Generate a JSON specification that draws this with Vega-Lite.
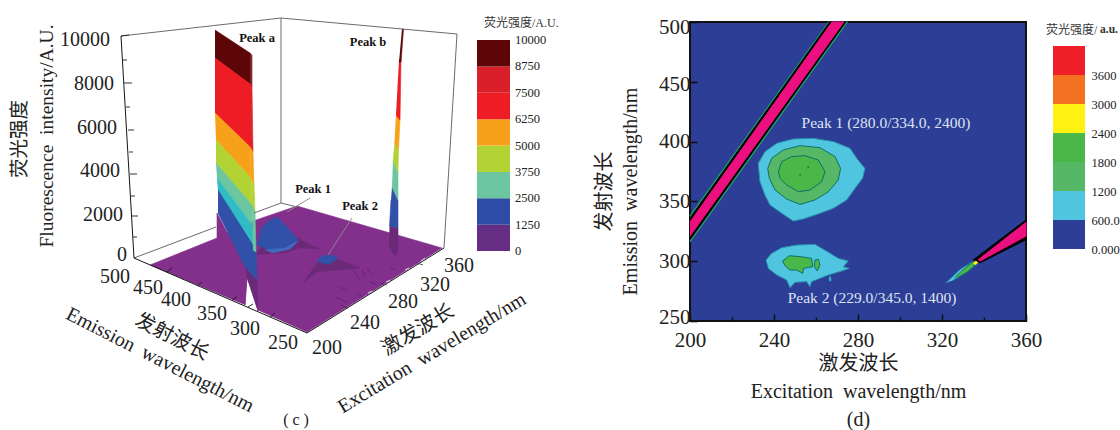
{"$schema":"https://vega.github.io/schema/vega-lite/v6.json","padding":0,"background":"white","bounds":"flush","spacing":0,"config":{"view":{"stroke":null},"font":"Liberation Serif"},
"resolve":{"scale":{"fill":"independent","stroke":"independent","strokeWidth":"independent"}},
"datasets":{
"poly3d":[
{"g":"floor","n":0,"h":150,"v":265,"level":"0-1250"},{"g":"floor","n":1,"h":217,"v":238,"level":"0-1250"},{"g":"floor","n":2,"h":250,"v":222,"level":"0-1250"},{"g":"floor","n":3,"h":297,"v":206,"level":"0-1250"},{"g":"floor","n":4,"h":442,"v":248,"level":"0-1250"},{"g":"floor","n":5,"h":307,"v":332,"level":"0-1250"},{"g":"floor","n":6,"h":258,"v":310,"level":"0-1250"},{"g":"floor","n":7,"h":247,"v":277,"level":"0-1250"},{"g":"floor","n":8,"h":245,"v":305,"level":"0-1250"},
{"g":"p1s","n":0,"h":256,"v":255,"level":"skirt"},{"g":"p1s","n":1,"h":262,"v":245,"level":"skirt"},{"g":"p1s","n":2,"h":298,"v":238,"level":"skirt"},{"g":"p1s","n":3,"h":312,"v":246,"level":"skirt"},{"g":"p1s","n":4,"h":320,"v":249,"level":"skirt"},{"g":"p1s","n":5,"h":300,"v":248,"level":"skirt"},{"g":"p1s","n":6,"h":285,"v":253,"level":"skirt"},
{"g":"p1b","n":0,"h":257,"v":245,"level":"1250-2500"},{"g":"p1b","n":1,"h":262,"v":227,"level":"1250-2500"},{"g":"p1b","n":2,"h":270,"v":220,"level":"1250-2500"},{"g":"p1b","n":3,"h":277,"v":217,"level":"1250-2500"},{"g":"p1b","n":4,"h":287,"v":227,"level":"1250-2500"},{"g":"p1b","n":5,"h":298,"v":240,"level":"1250-2500"},{"g":"p1b","n":6,"h":290,"v":248,"level":"1250-2500"},{"g":"p1b","n":7,"h":273,"v":252,"level":"1250-2500"},
{"g":"p1r","n":0,"h":265,"v":250,"level":"rim"},{"g":"p1r","n":1,"h":285,"v":248,"level":"rim"},{"g":"p1r","n":2,"h":298,"v":241,"level":"rim"},{"g":"p1r","n":3,"h":290,"v":249,"level":"rim"},{"g":"p1r","n":4,"h":272,"v":253,"level":"rim"},
{"g":"p2s","n":0,"h":303,"v":283,"level":"skirt"},{"g":"p2s","n":1,"h":317,"v":263,"level":"skirt"},{"g":"p2s","n":2,"h":338,"v":259,"level":"skirt"},{"g":"p2s","n":3,"h":360,"v":268,"level":"skirt"},{"g":"p2s","n":4,"h":337,"v":270,"level":"skirt"},{"g":"p2s","n":5,"h":317,"v":272,"level":"skirt"},
{"g":"p2b","n":0,"h":317,"v":261,"level":"1250-2500"},{"g":"p2b","n":1,"h":322,"v":256,"level":"1250-2500"},{"g":"p2b","n":2,"h":332,"v":255,"level":"1250-2500"},{"g":"p2b","n":3,"h":338,"v":258,"level":"1250-2500"},{"g":"p2b","n":4,"h":330,"v":264,"level":"1250-2500"},{"g":"p2b","n":5,"h":322,"v":263,"level":"1250-2500"},
{"g":"ac1","n":0,"h":217,"v":238,"level":"0-1250"},{"g":"ac1","n":1,"h":217,"v":213,"level":"0-1250"},{"g":"ac1","n":2,"h":245,"v":267,"level":"0-1250"},{"g":"ac1","n":3,"h":247,"v":277,"level":"0-1250"},{"g":"ac1","n":4,"h":245,"v":305,"level":"0-1250"},
{"g":"ac2","n":0,"h":245,"v":265,"level":"skirt"},{"g":"ac2","n":1,"h":257,"v":278,"level":"skirt"},{"g":"ac2","n":2,"h":258,"v":311,"level":"skirt"},{"g":"ac2","n":3,"h":247,"v":277,"level":"skirt"},
{"g":"a1","n":0,"h":215,"v":30,"level":"8750-10000"},{"g":"a1","n":1,"h":250,"v":53,"level":"8750-10000"},{"g":"a1","n":2,"h":250,"v":84,"level":"8750-10000"},{"g":"a1","n":3,"h":215,"v":58,"level":"8750-10000"},
{"g":"a2","n":0,"h":215,"v":58,"level":"6250-7500"},{"g":"a2","n":1,"h":250,"v":84,"level":"6250-7500"},{"g":"a2","n":2,"h":250,"v":147,"level":"6250-7500"},{"g":"a2","n":3,"h":215,"v":113,"level":"6250-7500"},
{"g":"a3","n":0,"h":215,"v":113,"level":"5000-6250"},{"g":"a3","n":1,"h":250,"v":147,"level":"5000-6250"},{"g":"a3","n":2,"h":251,"v":178,"level":"5000-6250"},{"g":"a3","n":3,"h":216,"v":140,"level":"5000-6250"},
{"g":"a4","n":0,"h":216,"v":140,"level":"3750-5000"},{"g":"a4","n":1,"h":251,"v":178,"level":"3750-5000"},{"g":"a4","n":2,"h":252,"v":205,"level":"3750-5000"},{"g":"a4","n":3,"h":216,"v":163,"level":"3750-5000"},
{"g":"a5","n":0,"h":216,"v":163,"level":"2500-3750"},{"g":"a5","n":1,"h":252,"v":205,"level":"2500-3750"},{"g":"a5","n":2,"h":252,"v":225,"level":"2500-3750"},{"g":"a5","n":3,"h":217,"v":178,"level":"2500-3750"},
{"g":"a6","n":0,"h":217,"v":178,"level":"cyan"},{"g":"a6","n":1,"h":252,"v":225,"level":"cyan"},{"g":"a6","n":2,"h":255,"v":250,"level":"cyan"},{"g":"a6","n":3,"h":218,"v":190,"level":"cyan"},
{"g":"a7","n":0,"h":218,"v":190,"level":"1250-2500"},{"g":"a7","n":1,"h":256,"v":250,"level":"1250-2500"},{"g":"a7","n":2,"h":257,"v":280,"level":"1250-2500"},{"g":"a7","n":3,"h":245,"v":267,"level":"1250-2500"},{"g":"a7","n":4,"h":218,"v":213,"level":"1250-2500"},
{"g":"as1","n":0,"h":250,"v":53,"level":"shade"},{"g":"as1","n":1,"h":252,"v":55,"level":"shade"},{"g":"as1","n":2,"h":252,"v":87,"level":"shade"},{"g":"as1","n":3,"h":250,"v":84,"level":"shade"},
{"g":"as2","n":0,"h":250,"v":84,"level":"7500-8750"},{"g":"as2","n":1,"h":252,"v":87,"level":"7500-8750"},{"g":"as2","n":2,"h":253,"v":152,"level":"7500-8750"},{"g":"as2","n":3,"h":250,"v":147,"level":"7500-8750"},
{"g":"as3","n":0,"h":250,"v":147,"level":"5000-6250"},{"g":"as3","n":1,"h":253,"v":152,"level":"5000-6250"},{"g":"as3","n":2,"h":254,"v":185,"level":"5000-6250"},{"g":"as3","n":3,"h":251,"v":178,"level":"5000-6250"},
{"g":"as4","n":0,"h":251,"v":178,"level":"3750-5000"},{"g":"as4","n":1,"h":254,"v":185,"level":"3750-5000"},{"g":"as4","n":2,"h":255,"v":212,"level":"3750-5000"},{"g":"as4","n":3,"h":252,"v":205,"level":"3750-5000"},
{"g":"as5","n":0,"h":252,"v":205,"level":"2500-3750"},{"g":"as5","n":1,"h":255,"v":212,"level":"2500-3750"},{"g":"as5","n":2,"h":256,"v":252,"level":"2500-3750"},{"g":"as5","n":3,"h":253,"v":250,"level":"2500-3750"},
{"g":"b7","n":0,"h":389.5,"v":226,"level":"skirt"},{"g":"b7","n":1,"h":398,"v":228,"level":"skirt"},{"g":"b7","n":2,"h":398,"v":250,"level":"skirt"},{"g":"b7","n":3,"h":396,"v":256,"level":"skirt"},{"g":"b7","n":4,"h":392,"v":252,"level":"skirt"},{"g":"b7","n":5,"h":389,"v":247,"level":"skirt"},
{"g":"b6","n":0,"h":392,"v":187,"level":"1250-2500"},{"g":"b6","n":1,"h":398,"v":200,"level":"1250-2500"},{"g":"b6","n":2,"h":398,"v":228,"level":"1250-2500"},{"g":"b6","n":3,"h":389.5,"v":226,"level":"1250-2500"},{"g":"b6","n":4,"h":391,"v":200,"level":"1250-2500"},
{"g":"b5","n":0,"h":393,"v":160,"level":"2500-3750"},{"g":"b5","n":1,"h":398,"v":172,"level":"2500-3750"},{"g":"b5","n":2,"h":398,"v":200,"level":"2500-3750"},{"g":"b5","n":3,"h":392,"v":187,"level":"2500-3750"},
{"g":"b4","n":0,"h":394.5,"v":142,"level":"3750-5000"},{"g":"b4","n":1,"h":398.5,"v":150,"level":"3750-5000"},{"g":"b4","n":2,"h":398,"v":172,"level":"3750-5000"},{"g":"b4","n":3,"h":393,"v":160,"level":"3750-5000"},
{"g":"b3","n":0,"h":396,"v":115,"level":"5000-6250"},{"g":"b3","n":1,"h":400,"v":120,"level":"5000-6250"},{"g":"b3","n":2,"h":398.5,"v":150,"level":"5000-6250"},{"g":"b3","n":3,"h":394.5,"v":142,"level":"5000-6250"},
{"g":"b2","n":0,"h":399,"v":60,"level":"6250-7500"},{"g":"b2","n":1,"h":401,"v":60,"level":"6250-7500"},{"g":"b2","n":2,"h":400,"v":120,"level":"6250-7500"},{"g":"b2","n":3,"h":396,"v":115,"level":"6250-7500"},
{"g":"b1","n":0,"h":402,"v":29,"level":"8750-10000"},{"g":"b1","n":1,"h":403.5,"v":29,"level":"8750-10000"},{"g":"b1","n":2,"h":401,"v":62,"level":"8750-10000"},{"g":"b1","n":3,"h":399,"v":62,"level":"8750-10000"}
],
"lines3d":[
{"g":"w1","n":0,"h":121,"v":36,"kind":"wall"},{"g":"w1","n":1,"h":281,"v":18,"kind":"wall"},{"g":"w1","n":2,"h":457,"v":34,"kind":"wall"},{"g":"w1","n":3,"h":444,"v":248,"kind":"wall"},
{"g":"w2","n":0,"h":281,"v":18,"kind":"wall"},{"g":"w2","n":1,"h":281,"v":203,"kind":"wall"},
{"g":"w3","n":0,"h":134,"v":258,"kind":"wall"},{"g":"w3","n":1,"h":216,"v":227,"kind":"wall"},
{"g":"w4","n":0,"h":254,"v":213,"kind":"wall"},{"g":"w4","n":1,"h":281,"v":203,"kind":"wall"},{"g":"w4","n":2,"h":297,"v":207,"kind":"wall"},
{"g":"l1","n":0,"h":287,"v":212,"kind":"leader"},{"g":"l1","n":1,"h":310,"v":198,"kind":"leader"},
{"g":"l2","n":0,"h":328,"v":255,"kind":"leader"},{"g":"l2","n":1,"h":352,"v":218,"kind":"leader"},
{"g":"z","n":0,"h":121,"v":36,"kind":"axis"},{"g":"z","n":1,"h":134,"v":258,"kind":"axis"},{"g":"z","n":2,"h":307,"v":333,"kind":"axis"},{"g":"z","n":3,"h":444,"v":248,"kind":"axis"},
{"g":"t0","n":0,"h":121,"v":36,"kind":"tick"},{"g":"t0","n":1,"h":129,"v":35,"kind":"tick"},
{"g":"t1","n":0,"h":123,"v":60,"kind":"tick"},{"g":"t1","n":1,"h":127,"v":60,"kind":"tick"},
{"g":"t2","n":0,"h":124,"v":83,"kind":"tick"},{"g":"t2","n":1,"h":132,"v":83,"kind":"tick"},
{"g":"t3","n":0,"h":126,"v":107,"kind":"tick"},{"g":"t3","n":1,"h":130,"v":107,"kind":"tick"},
{"g":"t4","n":0,"h":128,"v":130,"kind":"tick"},{"g":"t4","n":1,"h":134,"v":130,"kind":"tick"},
{"g":"t5","n":0,"h":129,"v":152,"kind":"tick"},{"g":"t5","n":1,"h":133,"v":152,"kind":"tick"},
{"g":"t6","n":0,"h":130,"v":174,"kind":"tick"},{"g":"t6","n":1,"h":137,"v":174,"kind":"tick"},
{"g":"t7","n":0,"h":131,"v":196,"kind":"tick"},{"g":"t7","n":1,"h":135,"v":196,"kind":"tick"},
{"g":"t8","n":0,"h":132,"v":216,"kind":"tick"},{"g":"t8","n":1,"h":138,"v":216,"kind":"tick"},
{"g":"t9","n":0,"h":133,"v":237,"kind":"tick"},{"g":"t9","n":1,"h":137,"v":237,"kind":"tick"},
{"g":"e1","n":0,"h":167,"v":272,"kind":"tick"},{"g":"e1","n":1,"h":172,"v":268,"kind":"tick"},
{"g":"e2","n":0,"h":197,"v":286,"kind":"tick"},{"g":"e2","n":1,"h":202,"v":282,"kind":"tick"},
{"g":"e3","n":0,"h":232,"v":300,"kind":"tick"},{"g":"e3","n":1,"h":237,"v":297,"kind":"tick"},
{"g":"e4","n":0,"h":248,"v":307,"kind":"tick"},{"g":"e4","n":1,"h":253,"v":304,"kind":"tick"},
{"g":"e5","n":0,"h":270,"v":317,"kind":"tick"},{"g":"e5","n":1,"h":275,"v":313,"kind":"tick"},
{"g":"x1","n":0,"h":340,"v":305,"kind":"speck"},{"g":"x1","n":1,"h":348,"v":308,"kind":"speck"},
{"g":"x2","n":0,"h":380,"v":283,"kind":"speck"},{"g":"x2","n":1,"h":387,"v":285,"kind":"speck"},
{"g":"x3","n":0,"h":417,"v":263,"kind":"speck"},{"g":"x3","n":1,"h":423,"v":265,"kind":"speck"},
{"g":"x4","n":0,"h":340,"v":287,"kind":"speck"},{"g":"x4","n":1,"h":347,"v":290,"kind":"speck"},
{"g":"x5","n":0,"h":362,"v":270,"kind":"speck"},{"g":"x5","n":1,"h":365,"v":277,"kind":"speck"},
{"g":"x6","n":0,"h":353,"v":270,"kind":"speck"},{"g":"x6","n":1,"h":360,"v":280,"kind":"speck"},
{"g":"x7","n":0,"h":367,"v":268,"kind":"speck"},{"g":"x7","n":1,"h":372,"v":275,"kind":"speck"},
{"g":"x8","n":0,"h":337,"v":298,"kind":"speck"},{"g":"x8","n":1,"h":347,"v":302,"kind":"speck"},
{"g":"x9","n":0,"h":357,"v":293,"kind":"speck"},{"g":"x9","n":1,"h":363,"v":297,"kind":"speck"},
{"g":"x10","n":0,"h":370,"v":282,"kind":"speck"},{"g":"x10","n":1,"h":377,"v":285,"kind":"speck"},
{"g":"x11","n":0,"h":390,"v":267,"kind":"speck"},{"g":"x11","n":1,"h":395,"v":270,"kind":"speck"},
{"g":"y1","n":0,"h":405,"v":270,"kind":"white"},{"g":"y1","n":1,"h":409,"v":268,"kind":"white"},
{"g":"y2","n":0,"h":386,"v":282,"kind":"white"},{"g":"y2","n":1,"h":390,"v":280,"kind":"white"},
{"g":"y3","n":0,"h":368,"v":293,"kind":"white"},{"g":"y3","n":1,"h":372,"v":291,"kind":"white"},
{"g":"y4","n":0,"h":421,"v":261,"kind":"white"},{"g":"y4","n":1,"h":425,"v":258,"kind":"white"}
],
"cont":[
{"g":"u0","n":0,"ex":200,"em":338,"level":"outline-green"},{"g":"u0","n":1,"ex":266,"em":500,"level":"outline-green"},{"g":"u0","n":2,"ex":275,"em":500,"level":"outline-green"},{"g":"u0","n":3,"ex":200,"em":316,"level":"outline-green"},
{"g":"u1","n":0,"ex":200,"em":336,"level":"outline-black"},{"g":"u1","n":1,"ex":266.5,"em":500,"level":"outline-black"},{"g":"u1","n":2,"ex":274.2,"em":500,"level":"outline-black"},{"g":"u1","n":3,"ex":200,"em":318,"level":"outline-black"},
{"g":"u2","n":0,"ex":200,"em":332.8,"level":"saturated"},{"g":"u2","n":1,"ex":267.6,"em":500,"level":"saturated"},{"g":"u2","n":2,"ex":273.3,"em":500,"level":"saturated"},{"g":"u2","n":3,"ex":200,"em":321,"level":"saturated"},
{"g":"r0","n":0,"ex":321.9,"em":281.8,"level":"600-1200"},{"g":"r0","n":1,"ex":328.6,"em":293,"level":"600-1200"},{"g":"r0","n":2,"ex":334,"em":299,"level":"600-1200"},{"g":"r0","n":3,"ex":336,"em":297,"level":"600-1200"},{"g":"r0","n":4,"ex":331.9,"em":291,"level":"600-1200"},{"g":"r0","n":5,"ex":325.2,"em":284,"level":"600-1200"},
{"g":"r1","n":0,"ex":326,"em":286,"level":"1800-2400"},{"g":"r1","n":1,"ex":329.5,"em":292,"level":"1800-2400"},{"g":"r1","n":2,"ex":335,"em":300,"level":"1800-2400"},{"g":"r1","n":3,"ex":336.5,"em":298,"level":"1800-2400"},{"g":"r1","n":4,"ex":332,"em":291,"level":"1800-2400"},{"g":"r1","n":5,"ex":327.5,"em":286.5,"level":"1800-2400"},
{"g":"r2","n":0,"ex":334.8,"em":301,"level":"outline-black"},{"g":"r2","n":1,"ex":360,"em":334.5,"level":"outline-black"},{"g":"r2","n":2,"ex":360,"em":318,"level":"outline-black"},{"g":"r2","n":3,"ex":338,"em":298.5,"level":"outline-black"},
{"g":"r3","n":0,"ex":337.1,"em":301,"level":"saturated"},{"g":"r3","n":1,"ex":360,"em":332.5,"level":"saturated"},{"g":"r3","n":2,"ex":360,"em":321,"level":"saturated"},{"g":"r3","n":3,"ex":338,"em":300,"level":"saturated"},
{"g":"r4","n":0,"ex":335,"em":298,"level":"2400-3000"},{"g":"r4","n":1,"ex":336,"em":300,"level":"2400-3000"},{"g":"r4","n":2,"ex":337,"em":299,"level":"2400-3000"},{"g":"r4","n":3,"ex":336,"em":297,"level":"2400-3000"},
{"g":"p10","n":0,"ex":232.5,"em":381.8,"level":"600-1200"},{"g":"p10","n":1,"ex":235.7,"em":391.6,"level":"600-1200"},{"g":"p10","n":2,"ex":241.3,"em":398.6,"level":"600-1200"},{"g":"p10","n":3,"ex":249.2,"em":402.2,"level":"600-1200"},{"g":"p10","n":4,"ex":258.7,"em":402.7,"level":"600-1200"},{"g":"p10","n":5,"ex":268.3,"em":400,"level":"600-1200"},{"g":"p10","n":6,"ex":276.2,"em":394.4,"level":"600-1200"},{"g":"p10","n":7,"ex":279.4,"em":386,"level":"600-1200"},{"g":"p10","n":8,"ex":283.3,"em":377.6,"level":"600-1200"},{"g":"p10","n":9,"ex":282.2,"em":369.3,"level":"600-1200"},{"g":"p10","n":10,"ex":278.6,"em":360.9,"level":"600-1200"},{"g":"p10","n":11,"ex":274.6,"em":351.2,"level":"600-1200"},{"g":"p10","n":12,"ex":268.3,"em":344.2,"level":"600-1200"},{"g":"p10","n":13,"ex":261.9,"em":340,"level":"600-1200"},{"g":"p10","n":14,"ex":254,"em":335.3,"level":"600-1200"},{"g":"p10","n":15,"ex":249.2,"em":333.6,"level":"600-1200"},{"g":"p10","n":16,"ex":243.7,"em":340,"level":"600-1200"},{"g":"p10","n":17,"ex":238.1,"em":347,"level":"600-1200"},{"g":"p10","n":18,"ex":235.7,"em":355.3,"level":"600-1200"},{"g":"p10","n":19,"ex":233.3,"em":366.5,"level":"600-1200"},{"g":"p10","n":20,"ex":232.5,"em":381.8,"level":"600-1200"},
{"g":"p11","n":0,"ex":237,"em":377.6,"level":"1200-1800"},{"g":"p11","n":1,"ex":238.9,"em":386,"level":"1200-1800"},{"g":"p11","n":2,"ex":244.4,"em":393,"level":"1200-1800"},{"g":"p11","n":3,"ex":252.4,"em":396.6,"level":"1200-1800"},{"g":"p11","n":4,"ex":261.9,"em":394.9,"level":"1200-1800"},{"g":"p11","n":5,"ex":269.1,"em":387.4,"level":"1200-1800"},{"g":"p11","n":6,"ex":271.7,"em":377.6,"level":"1200-1800"},{"g":"p11","n":7,"ex":270.6,"em":367.9,"level":"1200-1800"},{"g":"p11","n":8,"ex":265.9,"em":358.1,"level":"1200-1800"},{"g":"p11","n":9,"ex":259.5,"em":351.2,"level":"1200-1800"},{"g":"p11","n":10,"ex":252.4,"em":347.5,"level":"1200-1800"},{"g":"p11","n":11,"ex":246,"em":352,"level":"1200-1800"},{"g":"p11","n":12,"ex":240.5,"em":359.5,"level":"1200-1800"},{"g":"p11","n":13,"ex":237.8,"em":369.3,"level":"1200-1800"},{"g":"p11","n":14,"ex":237,"em":377.6,"level":"1200-1800"},
{"g":"p12","n":0,"ex":242.1,"em":374.9,"level":"1800-2400"},{"g":"p12","n":1,"ex":243.7,"em":383.2,"level":"1800-2400"},{"g":"p12","n":2,"ex":248.4,"em":387.4,"level":"1800-2400"},{"g":"p12","n":3,"ex":254.8,"em":388.2,"level":"1800-2400"},{"g":"p12","n":4,"ex":261.1,"em":384.6,"level":"1800-2400"},{"g":"p12","n":5,"ex":264.3,"em":374.9,"level":"1800-2400"},{"g":"p12","n":6,"ex":262.7,"em":366.5,"level":"1800-2400"},{"g":"p12","n":7,"ex":257.1,"em":359.5,"level":"1800-2400"},{"g":"p12","n":8,"ex":251.6,"em":358.1,"level":"1800-2400"},{"g":"p12","n":9,"ex":246,"em":363.7,"level":"1800-2400"},{"g":"p12","n":10,"ex":242.9,"em":369.3,"level":"1800-2400"},{"g":"p12","n":11,"ex":242.1,"em":374.9,"level":"1800-2400"},
{"g":"p20","n":0,"ex":236.2,"em":301,"level":"600-1200"},{"g":"p20","n":1,"ex":238.9,"em":306.6,"level":"600-1200"},{"g":"p20","n":2,"ex":243.7,"em":311.3,"level":"600-1200"},{"g":"p20","n":3,"ex":250.8,"em":313.5,"level":"600-1200"},{"g":"p20","n":4,"ex":259.5,"em":314.1,"level":"600-1200"},{"g":"p20","n":5,"ex":266.7,"em":306.6,"level":"600-1200"},{"g":"p20","n":6,"ex":270.6,"em":302.4,"level":"600-1200"},{"g":"p20","n":7,"ex":275.4,"em":300.2,"level":"600-1200"},{"g":"p20","n":8,"ex":273,"em":295.4,"level":"600-1200"},{"g":"p20","n":9,"ex":275.9,"em":294,"level":"600-1200"},{"g":"p20","n":10,"ex":271.4,"em":291.3,"level":"600-1200"},{"g":"p20","n":11,"ex":265.9,"em":288.5,"level":"600-1200"},{"g":"p20","n":12,"ex":261.9,"em":285.7,"level":"600-1200"},{"g":"p20","n":13,"ex":257.9,"em":282.9,"level":"600-1200"},{"g":"p20","n":14,"ex":257.1,"em":278.7,"level":"600-1200"},{"g":"p20","n":15,"ex":255.6,"em":282.9,"level":"600-1200"},{"g":"p20","n":16,"ex":250,"em":282.3,"level":"600-1200"},{"g":"p20","n":17,"ex":247.6,"em":277.9,"level":"600-1200"},{"g":"p20","n":18,"ex":246,"em":284.3,"level":"600-1200"},{"g":"p20","n":19,"ex":241.3,"em":288.5,"level":"600-1200"},{"g":"p20","n":20,"ex":237.3,"em":294,"level":"600-1200"},{"g":"p20","n":21,"ex":236.2,"em":301,"level":"600-1200"},
{"g":"p21","n":0,"ex":244.1,"em":300.2,"level":"1800-2400"},{"g":"p21","n":1,"ex":247.3,"em":304.6,"level":"1800-2400"},{"g":"p21","n":2,"ex":252.4,"em":303.8,"level":"1800-2400"},{"g":"p21","n":3,"ex":257.9,"em":302.4,"level":"1800-2400"},{"g":"p21","n":4,"ex":258.4,"em":295.4,"level":"1800-2400"},{"g":"p21","n":5,"ex":254,"em":294,"level":"1800-2400"},{"g":"p21","n":6,"ex":253.7,"em":289.9,"level":"1800-2400"},{"g":"p21","n":7,"ex":250.8,"em":292.6,"level":"1800-2400"},{"g":"p21","n":8,"ex":247.6,"em":292.6,"level":"1800-2400"},{"g":"p21","n":9,"ex":245.2,"em":296.3,"level":"1800-2400"},{"g":"p21","n":10,"ex":244.1,"em":300.2,"level":"1800-2400"},
{"g":"p22","n":0,"ex":259.5,"em":301,"level":"1800-2400"},{"g":"p22","n":1,"ex":261.1,"em":301.6,"level":"1800-2400"},{"g":"p22","n":2,"ex":261.9,"em":296.8,"level":"1800-2400"},{"g":"p22","n":3,"ex":260.6,"em":291.8,"level":"1800-2400"},{"g":"p22","n":4,"ex":259.2,"em":295.4,"level":"1800-2400"},{"g":"p22","n":5,"ex":259.5,"em":301,"level":"1800-2400"},
{"g":"p23","n":0,"ex":266.3,"em":287,"level":"600-1200"},{"g":"p23","n":1,"ex":267,"em":287,"level":"600-1200"},{"g":"p23","n":2,"ex":267.2,"em":283.5,"level":"600-1200"},{"g":"p23","n":3,"ex":266.2,"em":283.5,"level":"600-1200"}
]},
"hconcat":[
{"width":477,"height":430,"resolve":{"scale":{"stroke":"independent"}},"layer":[
{"data":{"name":"poly3d"},"mark":{"type":"line","strokeWidth":0.6},"encoding":{"x":{"field":"h","type":"quantitative","scale":{"domain":[0,477],"nice":false},"axis":null},"y":{"field":"v","type":"quantitative","scale":{"domain":[430,0],"nice":false},"axis":null},"detail":{"field":"g"},"order":{"field":"n","type":"quantitative"},
"fill":{"field":"level","type":"nominal","legend":null,"scale":{"domain":["0-1250","1250-2500","2500-3750","3750-5000","5000-6250","6250-7500","7500-8750","8750-10000","skirt","rim","cyan","shade"],"range":["#832f8c","#3150a8","#6cc6a0","#b3d334","#f7a11a","#ee1c25","#e0232c","#5c0608","#6b2a78","#3f6cc0","#2fbcc4","#85232c"]}},
"stroke":{"field":"level","type":"nominal","legend":null,"scale":{"domain":["0-1250","1250-2500","2500-3750","3750-5000","5000-6250","6250-7500","7500-8750","8750-10000","skirt","rim","cyan","shade"],"range":["#832f8c","#3150a8","#6cc6a0","#b3d334","#f7a11a","#ee1c25","#e0232c","#5c0608","#6b2a78","#3f6cc0","#2fbcc4","#85232c"]}}}},
{"data":{"name":"lines3d"},"mark":{"type":"line"},"encoding":{"x":{"field":"h","type":"quantitative"},"y":{"field":"v","type":"quantitative"},"detail":{"field":"g"},"order":{"field":"n","type":"quantitative"},
"stroke":{"field":"kind","type":"nominal","legend":null,"scale":{"domain":["wall","leader","axis","tick","speck","white"],"range":["#6a6a6a","#8a8a8a","#000000","#1a1a1a","#5e2470","#ffffff"]}},
"strokeWidth":{"field":"kind","type":"nominal","legend":null,"scale":{"domain":["wall","leader","axis","tick","speck","white"],"range":[1,0.8,2.6,1.6,1.6,1.4]}}}},
{"data":{"values":[{"t":"10000","h":110,"v":40},{"t":"8000","h":114,"v":84},{"t":"6000","h":117,"v":128},{"t":"4000","h":120,"v":171},{"t":"2000","h":123,"v":215},{"t":"0","h":127,"v":255}]},"mark":{"type":"text","align":"right","baseline":"middle","fontSize":20,"font":"Liberation Serif","color":"#222"},"encoding":{"x":{"field":"h","type":"quantitative"},"y":{"field":"v","type":"quantitative"},"text":{"field":"t"}}},
{"data":{"values":[{"t":"500","h":115,"v":277},{"t":"450","h":148,"v":288},{"t":"400","h":176,"v":300},{"t":"350","h":212,"v":314},{"t":"300","h":245,"v":329},{"t":"250","h":283,"v":343},{"t":"200","h":327,"v":348},{"t":"240","h":365,"v":323},{"t":"280","h":403,"v":302},{"t":"320","h":435,"v":285},{"t":"360","h":459,"v":266}]},"mark":{"type":"text","align":"center","baseline":"middle","fontSize":20,"font":"Liberation Serif","color":"#222"},"encoding":{"x":{"field":"h","type":"quantitative"},"y":{"field":"v","type":"quantitative"},"text":{"field":"t"}}},
{"data":{"values":[{"t":"荧光强度","h":20,"v":139},{"t":"Fluorescence\u00a0\u00a0intensity/A.U.","h":47,"v":136}]},"mark":{"type":"text","align":"center","baseline":"middle","angle":-90,"fontSize":19.5,"font":"Liberation Serif, Noto Sans CJK SC","color":"#222"},"encoding":{"x":{"field":"h","type":"quantitative"},"y":{"field":"v","type":"quantitative"},"text":{"field":"t"}}},
{"data":{"values":[{"t":"发射波长","h":172,"v":337},{"t":"Emission\u00a0\u00a0wavelength/nm","h":160,"v":360}]},"mark":{"type":"text","align":"center","baseline":"middle","angle":27,"fontSize":20,"font":"Liberation Serif, Noto Sans CJK SC","color":"#222"},"encoding":{"x":{"field":"h","type":"quantitative"},"y":{"field":"v","type":"quantitative"},"text":{"field":"t"}}},
{"data":{"values":[{"t":"激发波长","h":418,"v":330},{"t":"Excitation\u00a0\u00a0wavelength/nm","h":432,"v":353}]},"mark":{"type":"text","align":"center","baseline":"middle","angle":-31,"fontSize":20,"font":"Liberation Serif, Noto Sans CJK SC","color":"#222"},"encoding":{"x":{"field":"h","type":"quantitative"},"y":{"field":"v","type":"quantitative"},"text":{"field":"t"}}},
{"data":{"values":[{"t":"Peak a","h":257,"v":38},{"t":"Peak b","h":368,"v":42},{"t":"Peak 1","h":313,"v":189},{"t":"Peak 2","h":360,"v":206}]},"mark":{"type":"text","align":"center","baseline":"middle","fontSize":12.5,"fontWeight":"bold","font":"Liberation Serif","color":"#111"},"encoding":{"x":{"field":"h","type":"quantitative"},"y":{"field":"v","type":"quantitative"},"text":{"field":"t"}}},
{"data":{"values":[{"t":"( c )","h":296,"v":420}]},"mark":{"type":"text","align":"center","baseline":"middle","fontSize":16,"font":"Liberation Serif","color":"#222"},"encoding":{"x":{"field":"h","type":"quantitative"},"y":{"field":"v","type":"quantitative"},"text":{"field":"t"}}}
]},
{"width":33,"height":251,"layer":[
{"data":{"values":[{"lo":0,"hi":1250,"band":"a"},{"lo":1250,"hi":2500,"band":"b"},{"lo":2500,"hi":3750,"band":"c"},{"lo":3750,"hi":5000,"band":"d"},{"lo":5000,"hi":6250,"band":"e"},{"lo":6250,"hi":7500,"band":"f"},{"lo":7500,"hi":8750,"band":"g"},{"lo":8750,"hi":10000,"band":"h"}]},"mark":{"type":"rect"},"encoding":{"x":{"datum":0,"type":"quantitative","scale":{"domain":[0,1],"nice":false},"axis":null},"x2":{"datum":1},"y":{"field":"lo","type":"quantitative","scale":{"domain":[0,11896],"nice":false},"axis":null},"y2":{"field":"hi"},"fill":{"field":"band","type":"nominal","legend":null,"scale":{"domain":["a","b","c","d","e","f","g","h"],"range":["#662d84","#2e4ca5","#6cc6a0","#b3d334","#f7a11a","#ee1c25","#d9202a","#5c0608"]}}}},
{"data":{"values":[{"t":"0","p":1,"q":0},{"t":"1250","p":1,"q":1250},{"t":"2500","p":1,"q":2500},{"t":"3750","p":1,"q":3750},{"t":"5000","p":1,"q":5000},{"t":"6250","p":1,"q":6250},{"t":"7500","p":1,"q":7500},{"t":"8750","p":1,"q":8750},{"t":"10000","p":1,"q":10000}]},"mark":{"type":"text","align":"left","baseline":"middle","dx":5,"fontSize":12.5,"font":"Liberation Serif","color":"#222"},"encoding":{"x":{"field":"p","type":"quantitative"},"y":{"field":"q","type":"quantitative"},"text":{"field":"t"}}},
{"data":{"values":[{"t":"荧光强度/A.U.","p":0,"q":10806}]},"mark":{"type":"text","align":"left","baseline":"middle","dx":7,"fontSize":12,"font":"Liberation Serif, Noto Sans CJK SC","color":"#333"},"encoding":{"x":{"field":"p","type":"quantitative"},"y":{"field":"q","type":"quantitative"},"text":{"field":"t"}}}
]},
{"width":180,"height":10,"data":{"values":[]},"mark":"rect","encoding":{}},
{"width":336,"height":321,"layer":[
{"data":{"values":[{"a":200,"b":360,"c":250,"d":500}]},"mark":{"type":"rect","fill":"#2c3e96","stroke":"#111","strokeWidth":2},"encoding":{
"x":{"field":"a","type":"quantitative","scale":{"domain":[200,360],"nice":false,"zero":false},"axis":{"values":[200,220,240,260,280,300,320,340,360],"labelExpr":"datum.value%40==0?datum.label:''","tickSize":{"condition":{"test":"datum.value%40==0","value":-7},"value":-4},"tickColor":"#111","tickWidth":1.6,"domain":false,"grid":false,"zindex":1,"labelFontSize":21,"labelColor":"#222","labelFont":"Liberation Serif","labelPadding":15,"labelFlush":false,"labelOverlap":false,"labelBound":false,"title":["激发波长","Excitation\u00a0\u00a0wavelength/nm","(d)"],"titleFont":"Liberation Serif, Noto Sans CJK SC","titleFontSize":20,"titleFontWeight":"normal","titleColor":"#222","titleLineHeight":28,"titlePadding":0}},
"x2":{"field":"b"},
"y":{"field":"c","type":"quantitative","scale":{"domain":[250,518.4],"nice":false,"zero":false},"axis":{"values":[250,275,300,325,350,375,400,425,450,475,500],"labelExpr":"datum.value%50==0?datum.label:''","labelOffset":{"condition":[{"test":"datum.value==500","value":5},{"test":"datum.value==450","value":3},{"test":"datum.value==250","value":-4}],"value":0},"tickSize":{"condition":{"test":"datum.value%50==0","value":-7},"value":-4},"tickColor":"#111","tickWidth":1.6,"domain":false,"grid":false,"zindex":1,"labelFontSize":21,"labelColor":"#222","labelFont":"Liberation Serif","labelPadding":7,"labelOverlap":false,"labelBound":false,"title":["发射波长","Emission\u00a0\u00a0wavelength/nm"],"titleFont":"Liberation Serif, Noto Sans CJK SC","titleFontSize":20,"titleFontWeight":"normal","titleColor":"#222","titleLineHeight":26,"titlePadding":18,"titleY":191}},
"y2":{"field":"d"}}},
{"data":{"name":"cont"},"mark":{"type":"line","strokeWidth":1},"encoding":{"x":{"field":"ex","type":"quantitative"},"y":{"field":"em","type":"quantitative"},"detail":{"field":"g"},"order":{"field":"n","type":"quantitative"},
"fill":{"field":"level","type":"nominal","legend":null,"scale":{"domain":["600-1200","1200-1800","1800-2400","2400-3000","saturated","outline-black","outline-green"],"range":["#4fc5e0","#56b866","#4ab848","#fff212","#ec0f7f","#000000","#1f9d6a"]}},
"stroke":{"field":"level","type":"nominal","legend":null,"scale":{"domain":["600-1200","1200-1800","1800-2400","2400-3000","saturated","outline-black","outline-green"],"range":["#2a8fa8","#116f63","#116f63","#fff212","#ec0f7f","#000000","#1f9d6a"]}}}},
{"data":{"values":[{"ex":256.3,"em":378.5},{"ex":252.4,"em":372.1}]},"mark":{"type":"point","filled":true,"size":4,"color":"#0c5f50"},"encoding":{"x":{"field":"ex","type":"quantitative"},"y":{"field":"em","type":"quantitative"}}},
{"data":{"values":[{"t":"Peak 1 (280.0/334.0, 2400)","ex":293.3,"em":415.6},{"t":"Peak 2 (229.0/345.0, 1400)","ex":286.7,"em":269.2}]},"mark":{"type":"text","align":"center","baseline":"middle","fontSize":15.5,"font":"Liberation Serif","color":"#dfe3f2"},"encoding":{"x":{"field":"ex","type":"quantitative"},"y":{"field":"em","type":"quantitative"},"text":{"field":"t"}}}
]},
{"width":27,"height":10,"data":{"values":[]},"mark":"rect","encoding":{}},
{"width":32,"height":249,"layer":[
{"data":{"values":[{"lo":0,"hi":600,"band":"a"},{"lo":600,"hi":1200,"band":"b"},{"lo":1200,"hi":1800,"band":"c"},{"lo":1800,"hi":2400,"band":"d"},{"lo":2400,"hi":3000,"band":"e"},{"lo":3000,"hi":3600,"band":"f"},{"lo":3600,"hi":4200,"band":"g"}]},"mark":{"type":"rect"},"encoding":{"x":{"datum":0,"type":"quantitative","scale":{"domain":[0,1],"nice":false},"axis":null},"x2":{"datum":1},"y":{"field":"lo","type":"quantitative","scale":{"domain":[0,5152],"nice":false},"axis":{"orient":"right","values":[0,600,1200,1800,2400,3000,3600],"labelExpr":"datum.value==0?'0.000':datum.value==600?'600.0':format(datum.value,'d')","domain":false,"ticks":false,"grid":false,"title":null,"labelPadding":6,"labelFontSize":12.5,"labelColor":"#222","labelFont":"Liberation Serif","labelOverlap":false,"labelBound":false}},"y2":{"field":"hi"},"fill":{"field":"band","type":"nominal","legend":null,"scale":{"domain":["a","b","c","d","e","f","g"],"range":["#2c3e96","#4fc5e0","#56b866","#4ab848","#fff212","#f37021","#ee1f26"]}}}},
{"data":{"values":[{"t":"荧光强度/","p":0,"q":4531}]},"mark":{"type":"text","align":"left","baseline":"middle","dx":-7,"fontSize":12,"font":"Liberation Serif, Noto Sans CJK SC","color":"#333"},"encoding":{"x":{"field":"p","type":"quantitative"},"y":{"field":"q","type":"quantitative"},"text":{"field":"t"}}},
{"data":{"values":[{"t":"a.u.","p":1,"q":4531}]},"mark":{"type":"text","align":"left","baseline":"middle","dx":15,"fontSize":11.5,"fontWeight":"bold","font":"Liberation Serif","color":"#333"},"encoding":{"x":{"field":"p","type":"quantitative"},"y":{"field":"q","type":"quantitative"},"text":{"field":"t"}}}
]}
]}
